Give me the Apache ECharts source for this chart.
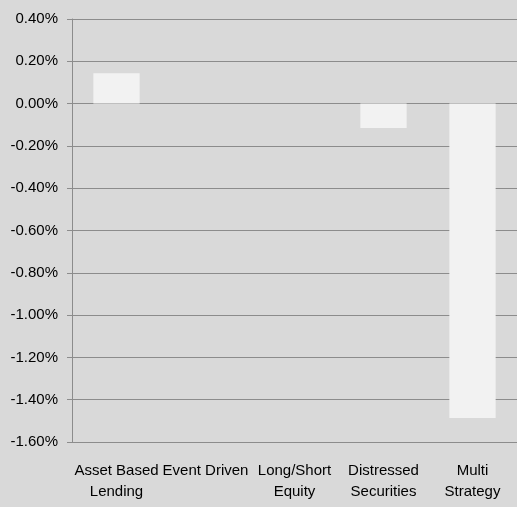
<!DOCTYPE html>
<html><head><meta charset="utf-8">
<script src="https://cdn.jsdelivr.net/npm/echarts@6/dist/echarts.min.js"></script>
<style>html,body{margin:0;padding:0;background:#d9d9d9}#c{width:517px;height:507px}</style>
</head><body><div id="c"></div>
<script>
const categories = ["Asset Based\nLending", "Event Driven", "Long/Short\nEquity", "Distressed\nSecurities", "Multi\nStrategy"];
const values = [0.143, 0, 0, -0.115, -1.486];
const yTicks = { min: -1.6, max: 0.4, interval: 0.2 };
const FONT = "'Liberation Sans Narrow', 'Liberation Sans', sans-serif";
const chart = echarts.init(document.getElementById('c'));
chart.setOption({
  backgroundColor: '#d9d9d9',
  animation: false,
  grid: { left: 72, right: 0, top: 19, bottom: 65 },
  xAxis: {
    type: 'category', data: categories,
    axisLine: { onZero: false, lineStyle: { color: '#8c8c8c', width: 1 } },
    axisTick: { show: false },
    axisLabel: { color: '#000', fontFamily: FONT, fontSize: 15, lineHeight: 21, margin: 18, interval: 0 }
  },
  yAxis: {
    type: 'value', min: yTicks.min, max: yTicks.max, interval: yTicks.interval,
    axisLine: { show: true, lineStyle: { color: '#8c8c8c', width: 1 } },
    axisTick: { show: true, length: 5, lineStyle: { color: '#8c8c8c' } },
    splitLine: { lineStyle: { color: '#8c8c8c', width: 1 } },
    axisLabel: { color: '#000', fontFamily: FONT, fontSize: 15, margin: 14,
      formatter: v => v.toFixed(2) + '%' }
  },
  series: [{
    type: 'bar', data: values, barWidth: '52%',
    itemStyle: { color: '#f2f2f2' }
  }]
});
</script></body></html>
